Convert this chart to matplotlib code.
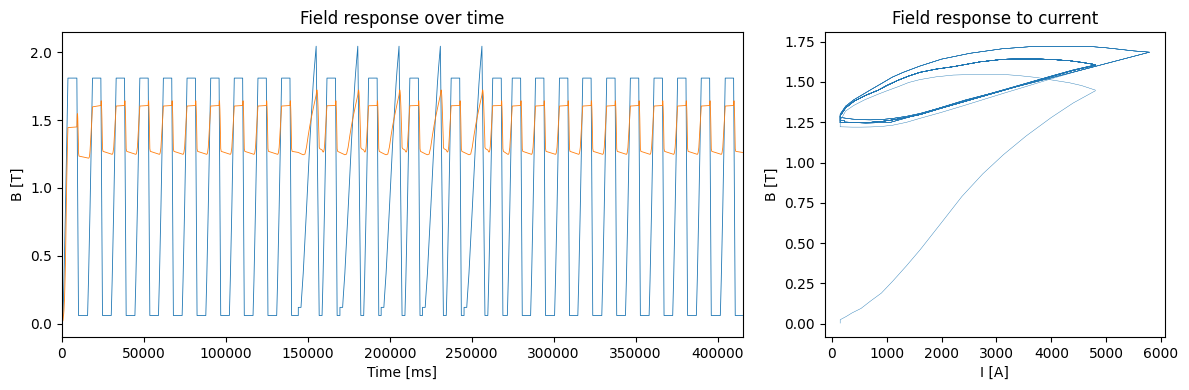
import numpy as np
import matplotlib
matplotlib.use("Agg")
import matplotlib.pyplot as plt

# --- ramp up of the current to 4800 A (ms from start of ramp) ---
up_dt = [0, 187, 375, 562, 750, 937, 1125, 1312, 1500, 1687, 1875, 2062,
         2250, 2437, 2625, 2812, 3000]
up_I = [150, 260, 370, 530, 700, 900, 1110, 1360, 1610, 1980, 2370, 2750,
        3130, 3540, 4000, 4400, 4800]
up_ref = [0.06, 0.14, 0.22, 0.32, 0.42, 0.525, 0.63, 0.74, 0.85, 0.965, 1.08,
          1.195, 1.31, 1.435, 1.56, 1.685, 1.81]
up_B_first = [0.025, 0.045, 0.068, 0.095, 0.14, 0.19, 0.265, 0.36, 0.46, 0.62,
              0.79, 0.93, 1.05, 1.165, 1.28, 1.37, 1.445]
up_B_light = [1.222, 1.221, 1.220, 1.220, 1.221, 1.224, 1.232, 1.250, 1.275,
              1.310, 1.350, 1.390, 1.430, 1.472, 1.520, 1.560, 1.598]
up_B_norm = [1.250, 1.249, 1.248, 1.248, 1.250, 1.255, 1.265, 1.280, 1.298,
             1.336, 1.374, 1.411, 1.448, 1.489, 1.534, 1.572, 1.604]
up_B_after = [1.280, 1.275, 1.270, 1.266, 1.265, 1.267, 1.274, 1.287, 1.305,
              1.340, 1.378, 1.415, 1.452, 1.492, 1.537, 1.575, 1.606]

# --- ramp down from 4800 A ---
down_dt = [0, 46, 86, 143, 186, 240, 289, 360, 443, 497, 554, 600, 651, 703,
           749, 829, 897, 960, 1000]
down_I = [4800, 4550, 4333, 4000, 3729, 3400, 3120, 2700, 2211, 1900, 1605,
          1400, 1200, 1000, 848, 600, 400, 250, 150]
down_ref = [1.81, 1.73, 1.66, 1.56, 1.485, 1.39, 1.305, 1.18, 1.035, 0.94,
            0.84, 0.76, 0.67, 0.58, 0.50, 0.36, 0.24, 0.13, 0.06]
down_B_light = [1.45, 1.478, 1.495, 1.513, 1.528, 1.54, 1.547, 1.548, 1.543,
                1.532, 1.515, 1.497, 1.47, 1.445, 1.425, 1.39, 1.355, 1.32, 1.26]
down_B_norm = [1.608, 1.622, 1.632, 1.640, 1.643, 1.643, 1.641, 1.625, 1.595,
               1.580, 1.560, 1.537, 1.510, 1.478, 1.450, 1.415, 1.380, 1.340, 1.29]

# --- overshoot cycles up to 5800 A ---
spk_dt = [0, 10, 1650, 2000, 3000, 4050, 5000, 6070, 7080, 8090, 9100, 9700, 10900]
spk_I = [150, 230, 230, 330, 615, 1070, 1590, 2430, 3270, 4000, 4670, 5050, 5790]
spk_ref = [0.06, 0.12, 0.12, 0.19, 0.37, 0.61, 0.84, 1.10, 1.35, 1.56, 1.77, 1.87, 2.045]
spk_B = [1.262, 1.262, 1.252, 1.25, 1.245, 1.25, 1.30, 1.388, 1.462, 1.526,
         1.585, 1.619, 1.685]

big_dt = [0, 65, 126, 172, 228, 359, 527, 694, 862, 1002, 1132, 1235, 1309,
          1407, 1514, 1626, 1682, 1785, 1850]
big_I = [5790, 5500, 5242, 5000, 4756, 4300, 3727, 3100, 2515, 2000, 1605,
         1300, 1100, 900, 697, 500, 400, 250, 150]
big_ref = [2.045, 1.975, 1.91, 1.86, 1.80, 1.66, 1.48, 1.30, 1.12, 0.97, 0.83,
           0.72, 0.64, 0.535, 0.42, 0.30, 0.24, 0.13, 0.06]
big_B = [1.685, 1.693, 1.703, 1.712, 1.719, 1.722, 1.722, 1.706, 1.678, 1.642,
         1.599, 1.56, 1.53, 1.49, 1.45, 1.41, 1.39, 1.35, 1.30]

# cycle start times [ms]
normal_start = [30080, 44520, 58890, 73330, 87770, 102150, 116590, 131020,
                271750, 285940, 300560, 314750, 329370, 343810, 358250,
                372630, 387070, 401690]
special_start = [144200, 169600, 194760, 219980, 245330]
t_end = 415230


def piece(t0, dt, I, ref, B):
    return np.column_stack([t0 + np.array(dt, float), I, ref, B])


def low(t0, b):
    return piece(t0, [0], [150], [0.06], [b])


cycles = []
cycles.append([piece(0, [0], [150], [0.06], [0.004]),
               piece(655, up_dt, up_I, up_ref, up_B_first),
               piece(9100, down_dt, down_I, down_ref, down_B_light),
               low(10400, 1.235)])
cycles.append([piece(15640, up_dt, up_I, up_ref, up_B_light),
               piece(23740, down_dt, down_I, down_ref, down_B_norm),
               low(25040, 1.27)])
for s in sorted(normal_start + special_start):
    if s in special_start:
        cycles.append([piece(s, spk_dt, spk_I, spk_ref, spk_B),
                       piece(s + 10900, big_dt, big_I, big_ref, big_B),
                       low(s + 13050, 1.29),
                       piece(s + 14500, up_dt, up_I, up_ref, up_B_after),
                       piece(s + 22700, down_dt, down_I, down_ref, down_B_norm),
                       low(s + 24000, 1.27)])
    else:
        cycles.append([piece(s, up_dt, up_I, up_ref, up_B_norm),
                       piece(s + 8100, down_dt, down_I, down_ref, down_B_norm),
                       low(s + 9400, 1.27)])
cycles.append([low(t_end, 1.262)])

chunks = [np.vstack(c) for c in cycles]
data = np.vstack(chunks)
t, cur, b_ref, b_meas = data[:, 0], data[:, 1], data[:, 2], data[:, 3]

fig, (ax1, ax2) = plt.subplots(1, 2, figsize=(11.89, 3.9), dpi=100,
                               gridspec_kw={"width_ratios": [2, 1]})
fig.subplots_adjust(left=0.0521, right=0.9798, bottom=0.136, top=0.917, wspace=0.161)

ax1.plot(t, b_ref, lw=0.6)
ax1.plot(t, b_meas, lw=0.6)
ax1.set_xlim(0, t_end)
ax1.set_yticks([0.0, 0.5, 1.0, 1.5, 2.0])
ax1.set_title("Field response over time")
ax1.set_xlabel("Time [ms]")
ax1.set_ylabel("B [T]")

# one line per cycle so that repeated loops build up
for i, c in enumerate(chunks):
    if i + 1 < len(chunks):
        c = np.vstack([c, chunks[i + 1][:1]])
    ax2.plot(c[:, 1], c[:, 3], color="C0", lw=0.3)
ax2.set_title("Field response to current")
ax2.set_xlabel("I [A]")
ax2.set_ylabel("B [T]")

fig.savefig("out.png")
